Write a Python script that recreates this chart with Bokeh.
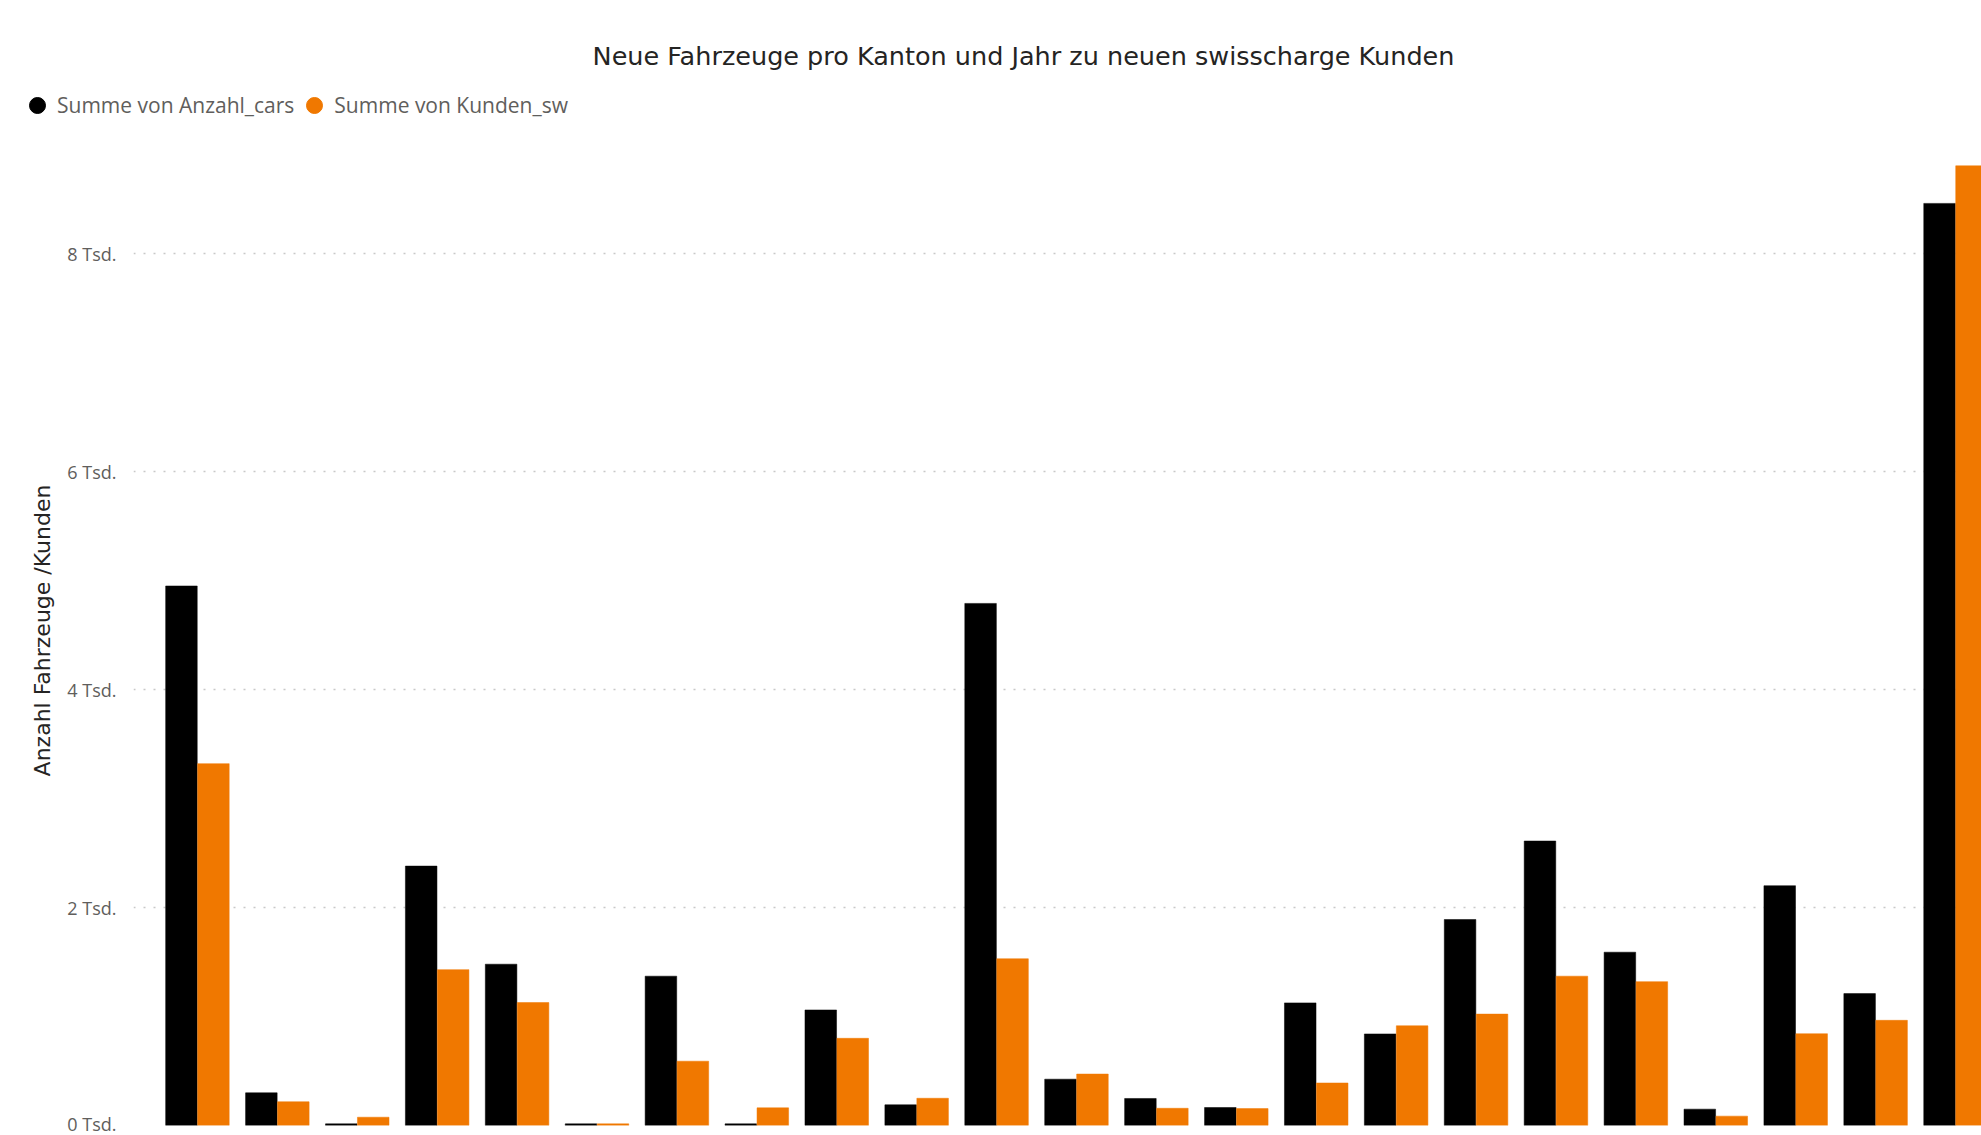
from bokeh.plotting import figure
from bokeh.layouts import column
from bokeh.models import ColumnDataSource, Legend, LegendItem, Label, FixedTicker, Range1d
from bokeh.transform import dodge
from bokeh.embed import file_html
from bokeh.resources import INLINE

# ---- data ----
kategorien = [str(i) for i in range(1, 24)]
anzahl_cars = [4950, 300, 15, 2380, 1480, 15, 1370, 15, 1060, 190, 4790, 425, 248, 165,
               1125, 840, 1890, 2610, 1590, 150, 2200, 1210, 8460]
kunden_sw = [3320, 218, 76, 1430, 1128, 15, 590, 162, 800, 250, 1530, 472, 158, 155,
             390, 915, 1022, 1370, 1320, 86, 842, 965, 8805]
y_ticks = [0, 2000, 4000, 6000, 8000]
y_tick_labels = ["0 Tsd.", "2 Tsd.", "4 Tsd.", "6 Tsd.", "8 Tsd."]
serien = ["Summe von Anzahl_cars", "Summe von Kunden_sw"]
farben = ["#000000", "#F07800"]
titel = "Neue Fahrzeuge pro Kanton und Jahr zu neuen swisscharge Kunden"
y_titel = "Anzahl Fahrzeuge /Kunden"

W = 1981
HEAD_H = 135
MAIN_H = 1000

# ---------------- header: title + legend ----------------
head = figure(
    width=W, height=HEAD_H,
    x_range=Range1d(0, W), y_range=Range1d(0, HEAD_H),
    output_backend="svg", toolbar_location=None,
    x_axis_location=None, y_axis_location=None,
    min_border=0, min_border_left=0, min_border_right=0,
    min_border_top=0, min_border_bottom=0,
    outline_line_color=None,
    background_fill_color="white", border_fill_color="white",
)
head.frame_align = False
head.grid.visible = False

# placeholder renderers that only supply the legend's circle symbols
nan = float("nan")
d1 = head.scatter(x=[nan], y=[nan], marker="circle", fill_color=farben[0], line_color=farben[0])
d2 = head.scatter(x=[nan], y=[nan], marker="circle", fill_color=farben[1], line_color=farben[1])
legend = Legend(
    items=[LegendItem(label=serien[0], renderers=[d1]),
           LegendItem(label=serien[1], renderers=[d2])],
    orientation="horizontal",
    location=(17, 10),
    glyph_width=40, glyph_height=40,
    label_standoff=0, spacing=0,
    padding=0, margin=0,
    border_line_alpha=0, background_fill_alpha=0,
    label_text_font="Open Sans", label_text_font_size="21px",
    label_text_color="#605E5C",
)
head.add_layout(legend, "center")

head.add_layout(Label(
    x=1023, y=HEAD_H - 55, text=titel,
    text_align="center", text_baseline="middle",
    text_font="DejaVu Sans", text_font_size="25.5px", text_color="#252423",
))

# ---------------- main chart ----------------
source = ColumnDataSource(dict(
    idx=list(range(len(kategorien))),
    kategorie=kategorien,
    cars=anzahl_cars,
    kunden=kunden_sw,
))

p = figure(
    width=W, height=MAIN_H,
    x_range=Range1d(-0.80, 22.325),
    y_range=Range1d(0, 9083),
    output_backend="svg", toolbar_location=None,
    x_axis_location=None,
    min_border_left=133, min_border_right=0, min_border_top=0, min_border_bottom=10,
    background_fill_color="white", border_fill_color="white",
    outline_line_color=None,
)
p.frame_align = False

bw = 0.395
p.vbar(x=dodge("idx", -0.2), top="cars", width=bw, source=source,
       fill_color=farben[0], line_color=farben[0], line_width=0.5)
p.vbar(x=dodge("idx", 0.2), top="kunden", width=bw, source=source,
       fill_color=farben[1], line_color=farben[1], line_width=0.5)

p.xgrid.visible = False
p.ygrid.ticker = FixedTicker(ticks=y_ticks)
p.ygrid.grid_line_color = "#c8c8c8"
p.ygrid.grid_line_dash = "2 8"
p.ygrid.grid_line_width = 1.5

ax = p.yaxis[0]
ax.ticker = FixedTicker(ticks=y_ticks)
ax.major_label_overrides = {t: l for t, l in zip(y_ticks, y_tick_labels)}
ax.axis_line_color = None
ax.major_tick_line_color = None
ax.minor_tick_line_color = None
ax.major_tick_out = 0
ax.major_tick_in = 0
ax.major_label_standoff = 17
ax.major_label_text_font = "Open Sans"
ax.major_label_text_font_size = "18px"
ax.major_label_text_color = "#605E5C"
ax.axis_label = y_titel
ax.axis_label_text_font = "DejaVu Sans"
ax.axis_label_text_font_size = "22px"
ax.axis_label_text_font_style = "normal"
ax.axis_label_text_color = "#252423"
ax.axis_label_standoff = 9

layout = column(head, p, spacing=0)
open("out.html", "w").write(file_html(layout, INLINE))
